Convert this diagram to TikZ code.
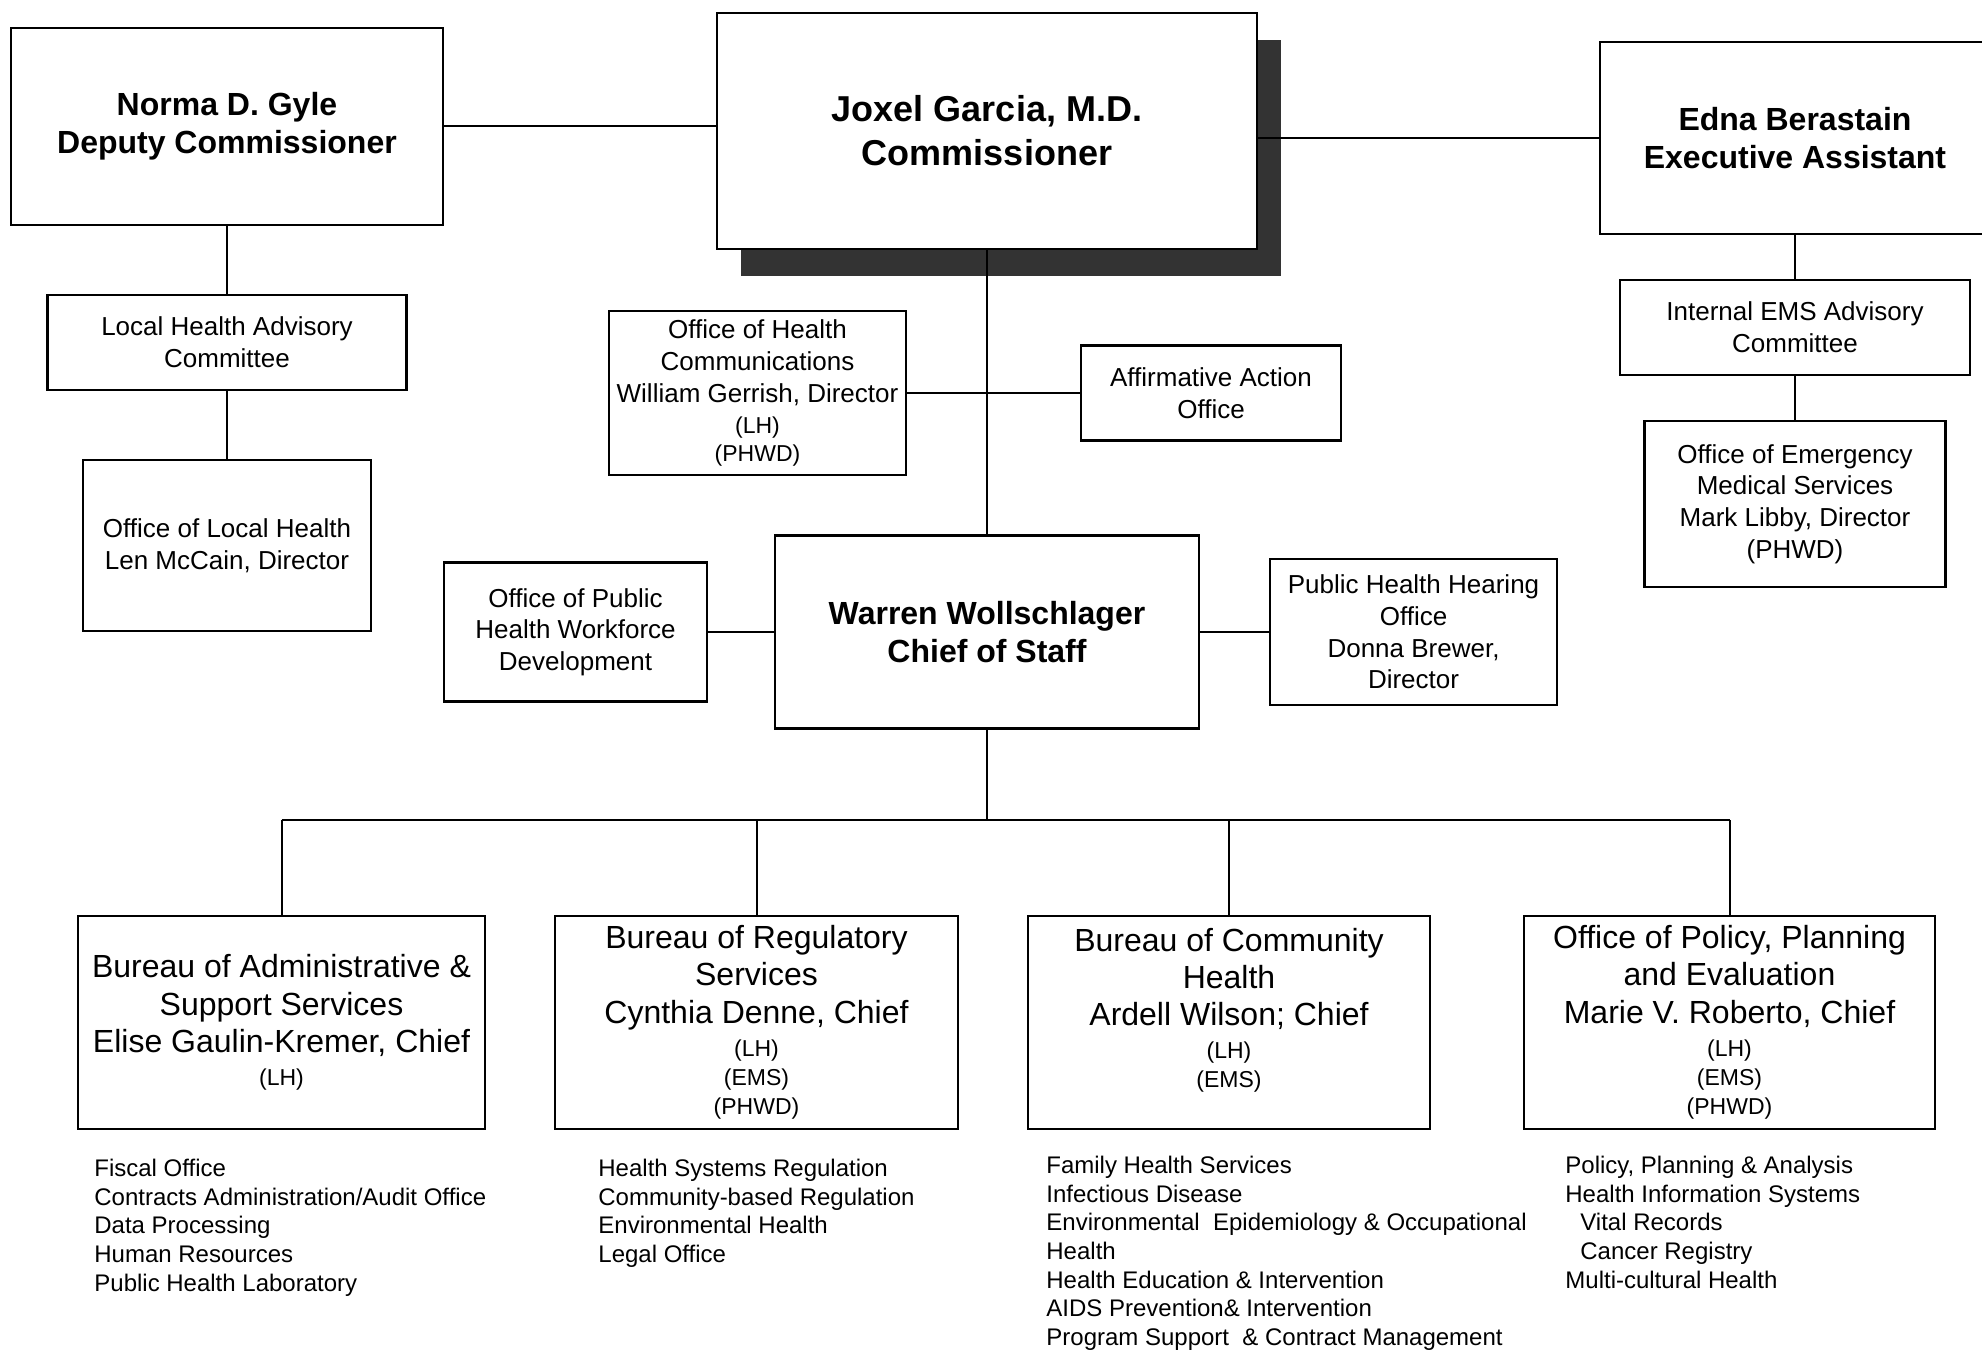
\documentclass[tikz,border=0pt]{standalone}
\usepackage{fontspec}
\setmainfont{Liberation Sans}
\usetikzlibrary{shadows}
\newcommand{\unitfont}{\fontsize{11.5}{14.5}\selectfont}

\begin{document}
\begin{tikzpicture}[
    x=0.5pt,y=-0.5pt,
    box/.style={draw,line width=1.2pt,fill=white,align=center,inner sep=2pt,font=\fontsize{13}{15.8}\selectfont},
    head/.style={box,font=\bfseries\fontsize{16}{19}\selectfont},
    bureau/.style={box,font=\fontsize{16}{18.6}\selectfont},
    wh/.style 2 args={minimum width=#1*0.5pt,minimum height=#2*0.5pt},
    link/.style={line width=1pt},
    items/.style={anchor=north west,align=left,inner sep=0pt,font=\fontsize{12}{14.3}\selectfont}
  ]
  \useasboundingbox (0,0) rectangle (1982,1352);
  % top row
  \node[head,wh={432}{197}] (norma) at (227,126.5) {Norma D. Gyle\\Deputy Commissioner};
  \node[head,wh={540}{236},font=\bfseries\fontsize{18}{22}\selectfont,
        general shadow={fill=black!80,shadow xshift=12pt,shadow yshift=-13.5pt}] (comm) at (987,131)
        {Joxel Garcia, M.D.\\Commissioner};
  \node[head,wh={390}{192}] (edna) at (1795,138) {Edna Berastain\\Executive Assistant};
  % deputy side
  \node[box,wh={359}{95}] (lhac) at (227,342.5) {Local Health Advisory\\Committee};
  \node[box,wh={288}{171}] (olh) at (227,545.5) {Office of Local Health\\Len McCain, Director};
  % staff offices
  \node[box,wh={297}{164}] (ohc) at (757.5,393) {Office of Health\\Communications\\William Gerrish, Director\\\unitfont (LH)\\[-2pt]\unitfont (PHWD)};
  \node[box,wh={260}{95}] (aao) at (1211,393) {Affirmative Action\\Office};
  \node[head,wh={424}{193}] (warren) at (987,632) {Warren Wollschlager\\Chief of Staff};
  \node[box,wh={263}{139}] (wfd) at (575.5,632) {Office of Public\\Health Workforce\\Development};
  \node[box,wh={287}{146}] (phho) at (1413.5,632) {Public Health Hearing\\Office\\Donna Brewer,\\Director};
  % EMS side
  \node[box,wh={350}{95}] (emsac) at (1795,327.5) {Internal EMS Advisory\\Committee};
  \node[box,wh={301}{166}] (oems) at (1795,504) {Office of Emergency\\Medical Services\\Mark Libby, Director\\(PHWD)};
  % bureaus
  \node[bureau,wh={407}{213}] (bas) at (281.5,1022.5) {Bureau of Administrative \&\\Support Services\\Elise Gaulin-Kremer, Chief\\[-2pt]\unitfont (LH)};
  \node[bureau,wh={403}{213}] (brs) at (756.5,1022.5) {Bureau of Regulatory\\Services\\Cynthia Denne, Chief\\[-2pt]\unitfont (LH)\\[-4pt]\unitfont (EMS)\\[-4pt]\unitfont (PHWD)};
  \node[bureau,wh={402}{213}] (bch) at (1229,1022.5) {Bureau of Community\\Health\\Ardell Wilson; Chief\\[-2pt]\unitfont (LH)\\[-4pt]\unitfont (EMS)\\[-4pt]\unitfont\mbox{}};
  \node[bureau,wh={411}{213}] (oppe) at (1729.5,1022.5) {Office of Policy, Planning\\and Evaluation\\Marie V. Roberto, Chief\\[-2pt]\unitfont (LH)\\[-4pt]\unitfont (EMS)\\[-4pt]\unitfont (PHWD)};
  % units under each bureau
  \node[items] (l1) at (94,1159) {Fiscal Office\\Contracts Administration/Audit Office\\Data Processing\\Human Resources\\Public Health Laboratory};
  \node[items] (l2) at (598,1159) {Health Systems Regulation\\Community-based Regulation\\Environmental Health\\Legal Office};
  \node[items] (l3) at (1046,1156) {Family Health Services\\Infectious Disease\\Environmental~ Epidemiology \& Occupational\\Health\\Health Education \& Intervention\\AIDS Prevention\& Intervention\\Program Support~ \& Contract Management};
  \node[items] (l4) at (1565,1156) {Policy, Planning \& Analysis\\Health Information Systems\\\hspace*{7.5pt}Vital Records\\\hspace*{7.5pt}Cancer Registry\\Multi-cultural Health};
  % lines
  \draw[link] (norma.east) -- (norma.east -| comm.west);
  \draw[link] (edna.west -| comm.east) -- (edna.west);
  \draw[link] (norma) -- (lhac) -- (olh);
  \draw[link] (edna) -- (emsac) -- (oems);
  \draw[link] (comm.south) -- (warren.north);
  \draw[link] (ohc.east) -- (aao.west);
  \draw[link] (wfd.east) -- (warren.west);
  \draw[link] (warren.east) -- (phho.west);
  \coordinate (bus) at (987,820);
  \draw[link] (warren) -- (bus);
  \draw[link] (bas.north |- bus) -- (oppe.north |- bus);
  \foreach \b in {bas,brs,bch,oppe} {\draw[link] (\b) -- (\b.north |- bus);}
\end{tikzpicture}
\end{document}
